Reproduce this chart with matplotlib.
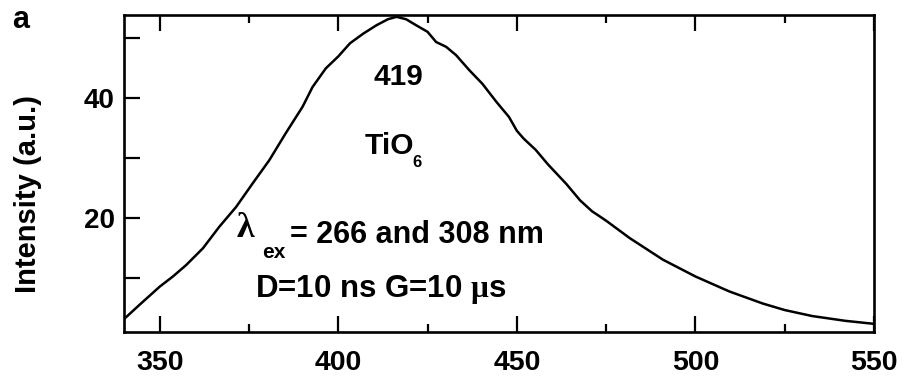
import matplotlib
matplotlib.use("Agg")
import matplotlib.pyplot as plt
from matplotlib.ticker import FixedLocator

plt.rcParams['font.family'] = ['Liberation Sans', 'DejaVu Sans']
plt.rcParams['font.weight'] = 'bold'
plt.rcParams['mathtext.fontset'] = 'custom'
plt.rcParams['mathtext.rm'] = 'Liberation Sans:bold'
plt.rcParams['mathtext.bf'] = 'Liberation Sans:bold'
plt.rcParams['mathtext.it'] = 'Liberation Serif'
plt.rcParams['mathtext.sf'] = 'Liberation Sans:bold'

# Emission spectrum (wavelength in nm, intensity in a.u.)
wavelength = [340.2, 344.4, 350.0, 353.7, 357.4, 362.1, 366.7, 371.4, 376.0, 380.7,
              385.3, 390.0, 392.8, 396.5, 400.0, 403.3, 407.0, 410.7, 413.9, 416.3,
              419.0, 421.8, 425.0, 427.4, 430.2, 433.0, 436.7, 440.4, 444.3, 447.8,
              450.0, 451.9, 455.3, 458.7, 463.9, 467.7, 471.0, 475.0, 481.6, 490.9,
              500.0, 509.5, 518.8, 525.0, 532.7, 542.0, 550.0]
intensity = [3.3, 5.6, 8.6, 10.3, 12.2, 15.0, 18.6, 21.9, 25.8, 29.7,
             34.2, 38.6, 41.9, 45.0, 47.0, 49.2, 50.8, 52.2, 53.2, 53.6,
             53.2, 52.2, 51.1, 49.4, 48.6, 47.2, 44.7, 42.4, 39.4, 36.9,
             34.6, 33.3, 31.4, 29.0, 25.7, 23.0, 21.2, 19.6, 16.7, 13.1,
             10.3, 7.8, 5.8, 4.7, 3.7, 2.9, 2.4]

x_major = [350, 400, 450, 500, 550]
x_minor = [375, 425, 475, 525]
y_labeled = [20, 40]
y_unlabeled = [10, 30, 50]

fig = plt.figure(figsize=(9.07, 3.76), dpi=100)
ax = fig.add_axes([0.1367, 0.118, 0.8269, 0.842])

ax.plot(wavelength, intensity, color='black', lw=1.8)

ax.set_xlim(340, 550)
ax.set_ylim(1.1, 53.9)

ax.xaxis.set_major_locator(FixedLocator(x_major))
ax.xaxis.set_minor_locator(FixedLocator(x_minor))
ax.yaxis.set_major_locator(FixedLocator(y_labeled))
ax.yaxis.set_minor_locator(FixedLocator(y_unlabeled))

ax.tick_params(axis='x', which='both', direction='in', top=True, bottom=True,
               width=1.6, labelsize=20.5, pad=13)
ax.tick_params(axis='x', which='major', length=11.5)
ax.tick_params(axis='x', which='minor', length=6)
ax.tick_params(axis='y', which='both', direction='in', left=True, right=False,
               width=1.6, length=11.5, labelsize=20, pad=6.5)

for lab in ax.get_xticklabels() + ax.get_yticklabels():
    lab.set_fontweight('bold')

for sp in ax.spines.values():
    sp.set_linewidth(1.9)

ax.set_ylabel('Intensity (a.u.)', fontsize=21, fontweight='bold')
ax.yaxis.set_label_coords(-0.109, 0.436)

# annotations
ax.text(416.8, 42.2, '419', fontsize=21.5, fontweight='bold', ha='center', va='baseline')
ax.text(407.3, 30.8, 'TiO', fontsize=21.5, fontweight='bold', ha='left', va='baseline')
ax.text(420.7, 28.6, '6', fontsize=12, fontweight='bold', ha='left', va='baseline')

ax.text(371.4, 16.9, '\u03bb', fontsize=26, fontweight='bold',
        family=['Liberation Serif', 'DejaVu Serif'], ha='left', va='baseline')
ax.text(378.6, 13.3, 'ex', fontsize=15, fontweight='bold', ha='left', va='baseline')
ax.text(386.6, 15.8, '= 266 and 308 nm', fontsize=22, fontweight='bold',
        ha='left', va='baseline')
ax.text(411.9, 6.9, r'D=10 ns G=10 $\mu$s', fontsize=22.5, fontweight='bold',
        ha='center', va='baseline')

fig.text(0.013, 0.9255, 'a', fontsize=22, fontweight='bold', ha='left', va='baseline')

fig.savefig('out.png', dpi=100)
